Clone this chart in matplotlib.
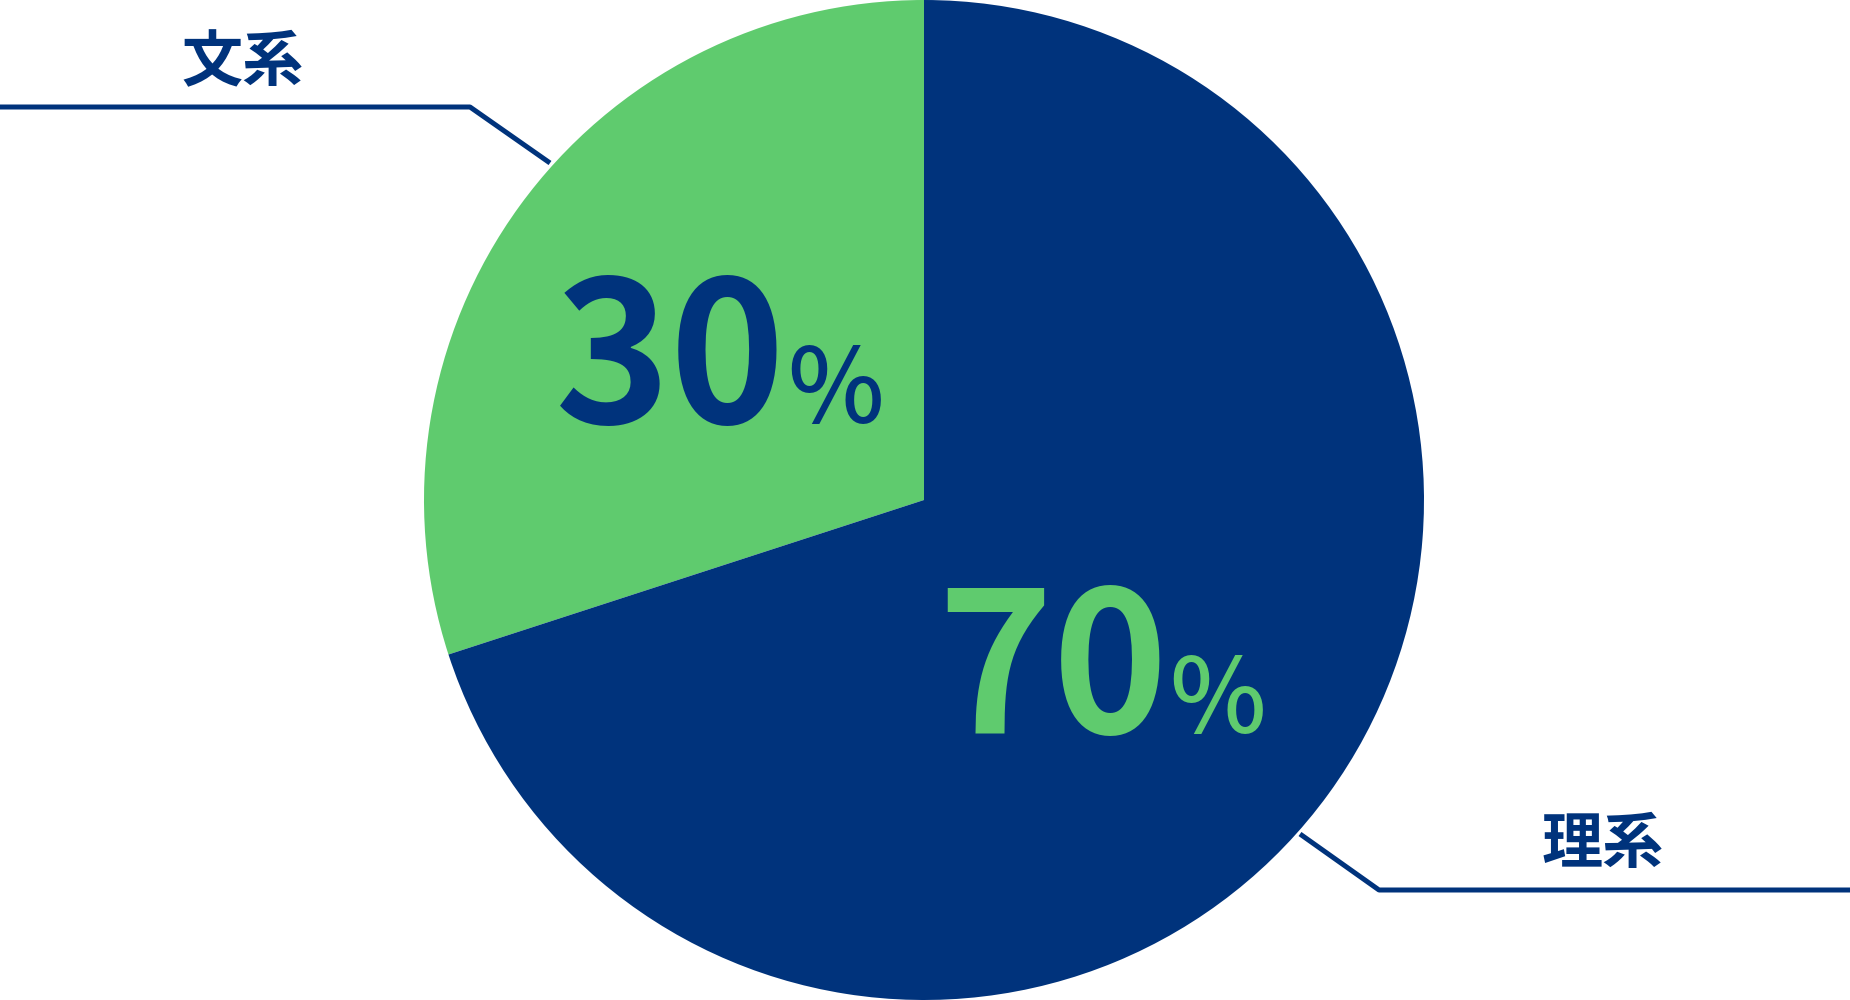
import matplotlib.pyplot as plt

plt.rcParams['font.family'] = ['Noto Sans CJK JP', 'DejaVu Sans']

NAVY = "#00337c"
GREEN = "#5fcb6e"

labels = ["文系", "理系"]
shares = [30, 70]
colors = [GREEN, NAVY]
text_colors = [NAVY, GREEN]

W, H = 1850, 1000
fig = plt.figure(figsize=(W / 100, H / 100), dpi=100)
ax = fig.add_axes([0, 0, 1, 1])

ax.pie(shares, colors=colors, startangle=90, counterclock=True,
       center=(924, 500), radius=500, wedgeprops=dict(linewidth=0))
ax.set_xlim(0, W)
ax.set_ylim(0, H)
ax.set_aspect("equal")
ax.axis("off")

# percentage labels inside the wedges (number right edge, baseline)
num_pos = [(786, 577), (1168, 267)]
for (x, y), val, col in zip(num_pos, shares, text_colors):
    ax.text(x, y, str(val), ha="right", va="baseline", color=col,
            fontsize=141, fontweight="bold")
    ax.text(x + 1, y, "%", ha="left", va="baseline", color=col,
            fontsize=74, fontweight="medium")

# category labels with leader lines
label_pos = [(243, 937), (1603, 155)]
leaders = [
    ([0, 470, 550], [893, 893, 837]),
    ([1300, 1379, 1850], [166, 110, 110]),
]
for (x, y), name, (lx, ly) in zip(label_pos, labels, leaders):
    ax.text(x, y, name, ha="center", va="center", color=NAVY,
            fontsize=44, fontweight="bold")
    ax.plot(lx, ly, color=NAVY, linewidth=3.6, solid_capstyle="butt")

fig.savefig("out.png", dpi=100)
